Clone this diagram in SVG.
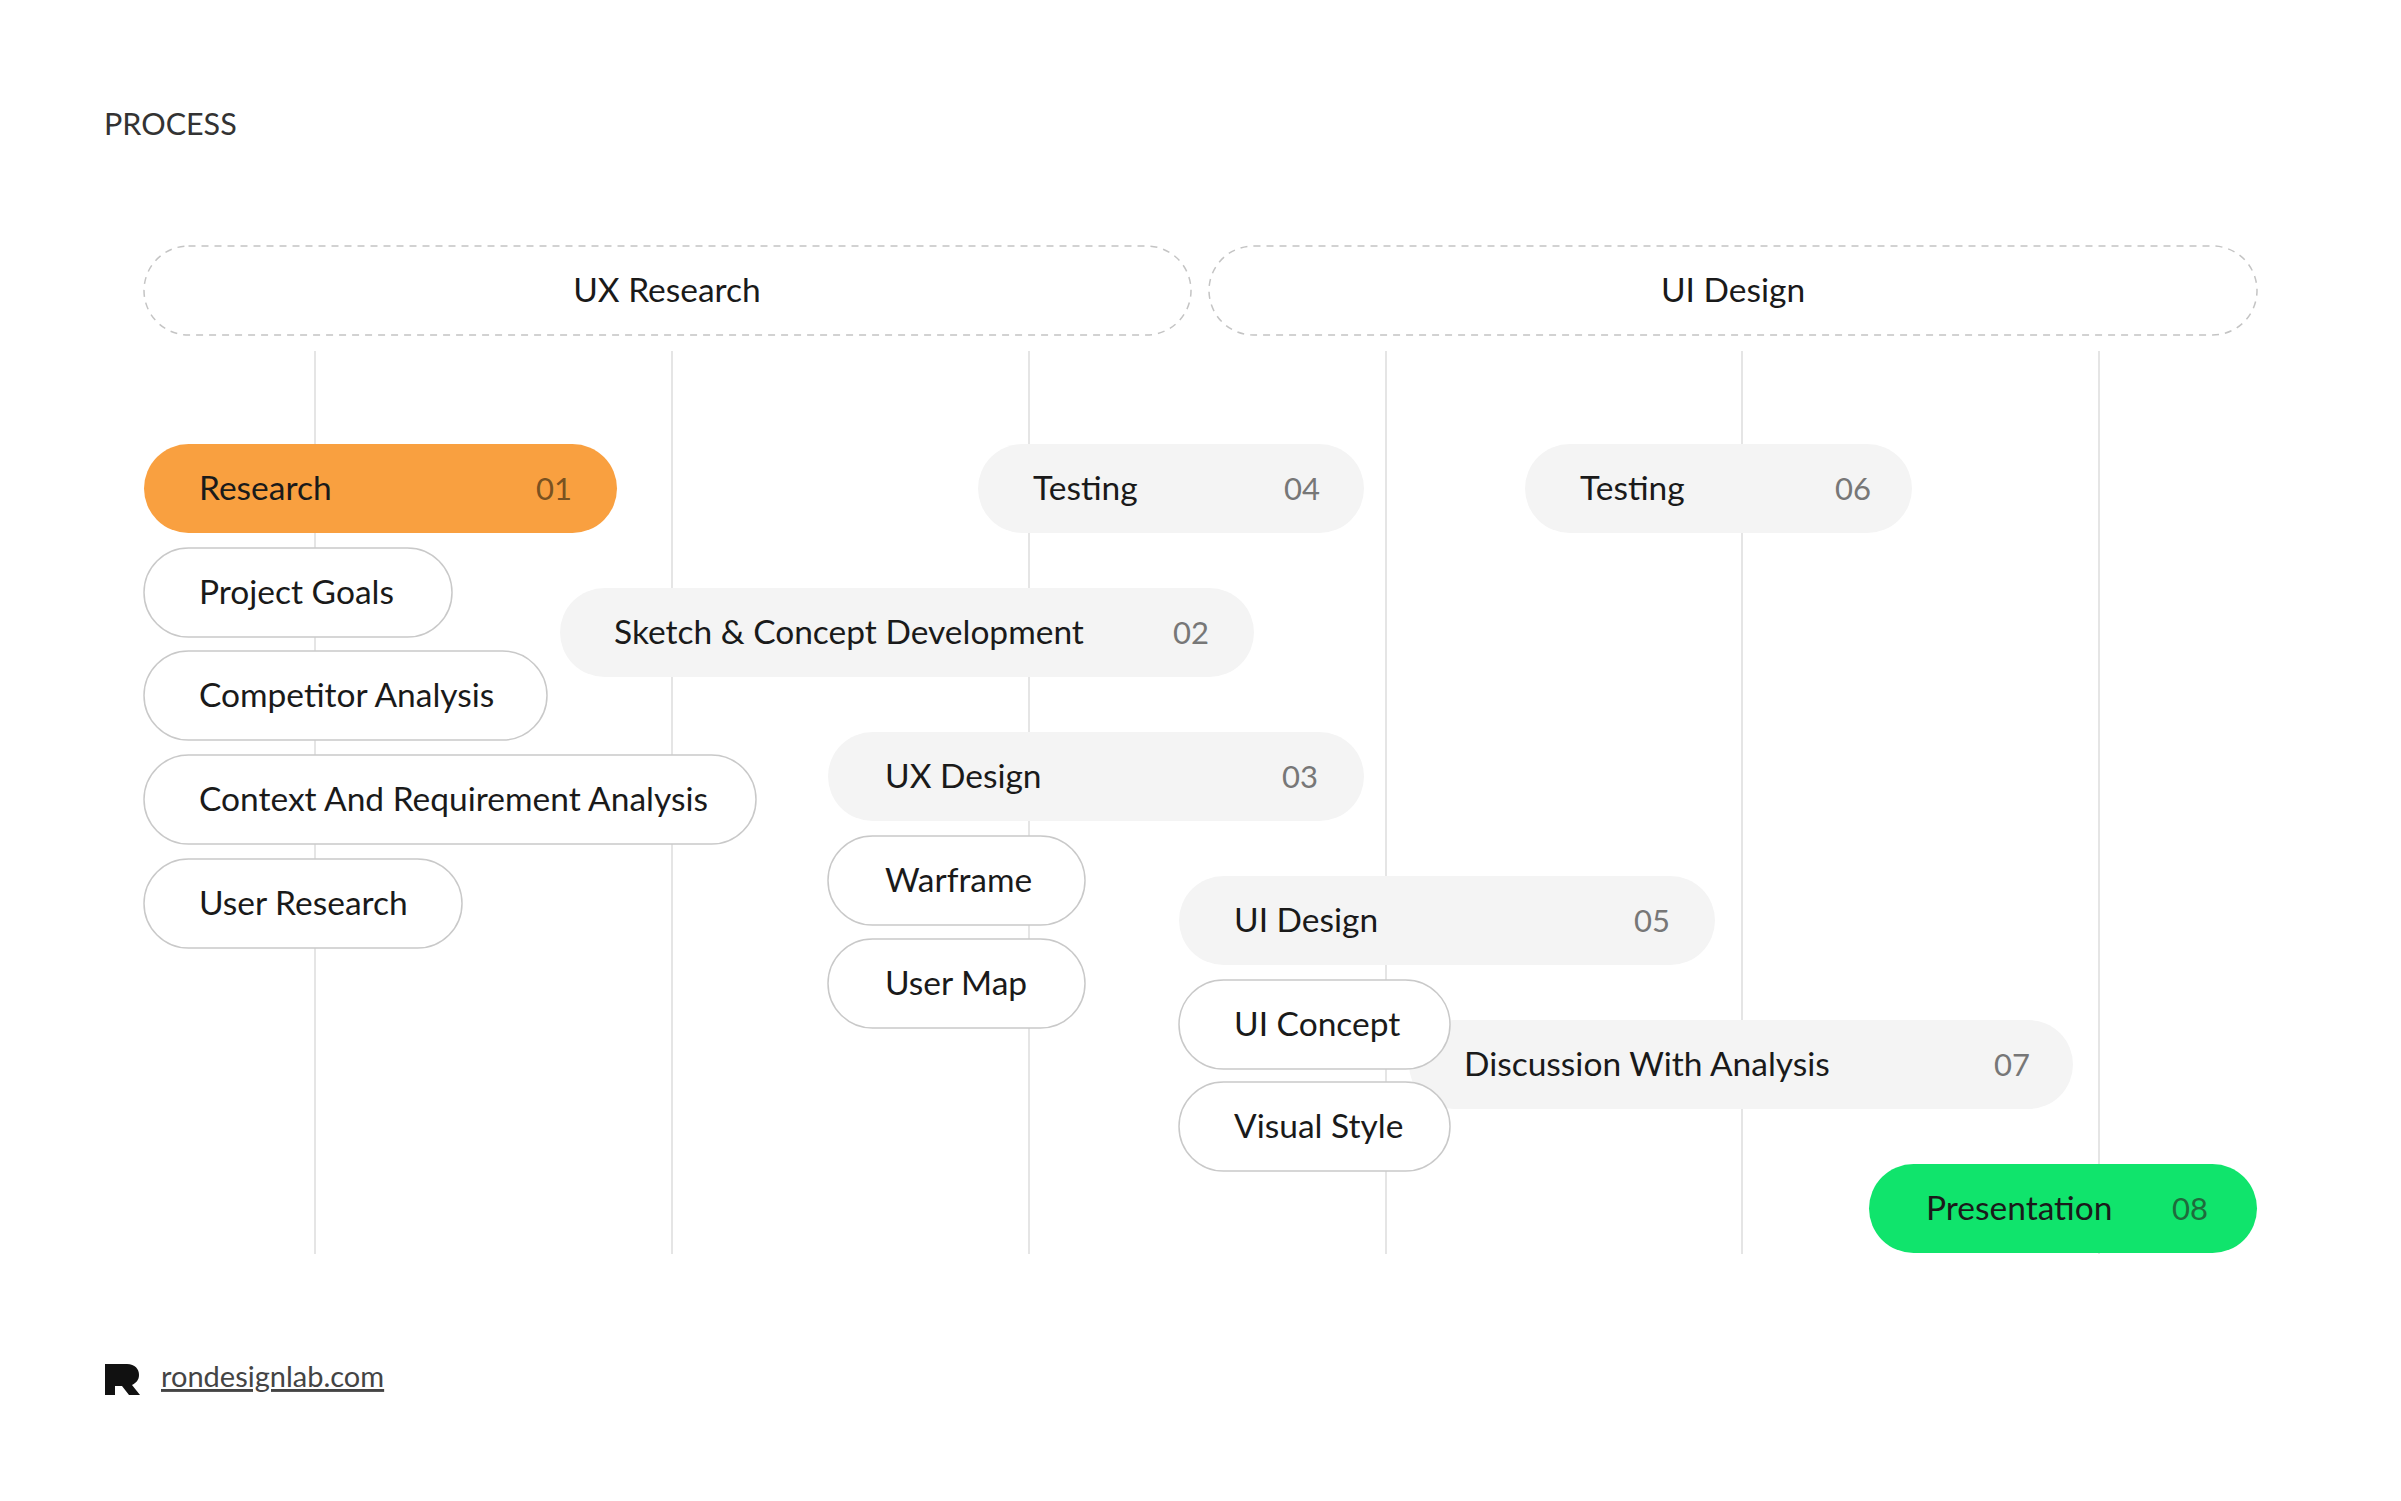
<svg xmlns="http://www.w3.org/2000/svg" width="2401" height="1501" viewBox="0 0 2401 1501">
<style>
text{font-family:Lato,"Noto Sans","Liberation Sans",sans-serif;fill:#1a1a1a}
.t{font-size:33.5px}
.n{font-size:31px;fill:#777;text-anchor:end}
.w{fill:#fff;stroke:#c9c9c9;stroke-width:1.5}
.g{fill:#f4f4f4}
.v{stroke:#dcdcdc;stroke-width:1.5}
.d{fill:none;stroke:#c4c4c4;stroke-width:1.5;stroke-dasharray:7 6}
</style>
<rect width="2401" height="1501" fill="#fff"/>
<text x="104" y="135" font-size="30.5" style="fill:#333">PROCESS</text>
<g id="phase-ux"><rect class="d" x="144" y="246" width="1047" height="89" rx="44.5"/><text class="t" x="667" y="302" text-anchor="middle">UX Research</text></g>
<g id="phase-ui"><rect class="d" x="1209" y="246" width="1048" height="89" rx="44.5"/><text class="t" x="1733" y="302" text-anchor="middle">UI Design</text></g>
<g id="connectors">
<line class="v" x1="315" y1="351" x2="315" y2="1254"/>
<line class="v" x1="672" y1="351" x2="672" y2="1254"/>
<line class="v" x1="1029" y1="351" x2="1029" y2="1254"/>
<line class="v" x1="1386" y1="351" x2="1386" y2="1254"/>
<line class="v" x1="1742" y1="351" x2="1742" y2="1254"/>
<line class="v" x1="2099" y1="351" x2="2099" y2="1254"/>
</g>
<g id="research"><rect x="144" y="444" width="473" height="89" rx="44.5" fill="#f9a040"/><text class="t" x="199" y="500">Research</text><text class="n" x="572" y="500" style="fill:#7a5220">01</text></g>
<g id="project-goals"><rect class="w" x="144" y="548" width="308" height="89" rx="44.5"/><text class="t" x="199" y="604">Project Goals</text></g>
<g id="competitor"><rect class="w" x="144" y="651" width="403" height="89" rx="44.5"/><text class="t" x="199" y="707">Competitor Analysis</text></g>
<g id="context"><rect class="w" x="144" y="755" width="612" height="89" rx="44.5"/><text class="t" x="199" y="811">Context And Requirement Analysis</text></g>
<g id="user-research"><rect class="w" x="144" y="859" width="318" height="89" rx="44.5"/><text class="t" x="199" y="915">User Research</text></g>
<g id="testing04"><rect class="g" x="978" y="444" width="386" height="89" rx="44.5"/><text class="t" x="1033" y="500">Testing</text><text class="n" x="1320" y="500">04</text></g>
<g id="sketch"><rect class="g" x="560" y="588" width="694" height="89" rx="44.5"/><text class="t" x="614" y="644">Sketch &amp; Concept Development</text><text class="n" x="1209" y="644">02</text></g>
<g id="uxdesign"><rect class="g" x="828" y="732" width="536" height="89" rx="44.5"/><text class="t" x="885" y="788">UX Design</text><text class="n" x="1318" y="788">03</text></g>
<g id="warframe"><rect class="w" x="828" y="836" width="257" height="89" rx="44.5"/><text class="t" x="885" y="892">Warframe</text></g>
<g id="usermap"><rect class="w" x="828" y="939" width="257" height="89" rx="44.5"/><text class="t" x="885" y="995">User Map</text></g>
<g id="testing06"><rect class="g" x="1525" y="444" width="387" height="89" rx="44.5"/><text class="t" x="1580" y="500">Testing</text><text class="n" x="1871" y="500">06</text></g>
<g id="uidesign"><rect class="g" x="1179" y="876" width="536" height="89" rx="44.5"/><text class="t" x="1234" y="932">UI Design</text><text class="n" x="1670" y="932">05</text></g>
<g id="discussion"><rect class="g" x="1409" y="1020" width="664" height="89" rx="44.5"/><text class="t" x="1464" y="1076">Discussion With Analysis</text><text class="n" x="2030" y="1076">07</text></g>
<g id="uiconcept"><rect class="w" x="1179" y="980" width="271" height="89" rx="44.5"/><text class="t" x="1234" y="1036">UI Concept</text></g>
<g id="visualstyle"><rect class="w" x="1179" y="1082" width="271" height="89" rx="44.5"/><text class="t" x="1234" y="1138">Visual Style</text></g>
<g id="presentation"><rect x="1869" y="1164" width="388" height="89" rx="44.5" fill="#10e46c"/><text class="t" x="1926" y="1220">Presentation</text><text class="n" x="2208" y="1220" style="fill:#1f6b3c">08</text></g>
<g id="footer">
<path d="M105 1364h22c8 0 12 5 12 11 0 5-3 8-7 10l8 10h-11l-7-9h-7v9h-10z" fill="#111"/>
<text x="161" y="1387" font-size="29" text-decoration="underline" style="fill:#444">rondesignlab.com</text>
</g>
</svg>
